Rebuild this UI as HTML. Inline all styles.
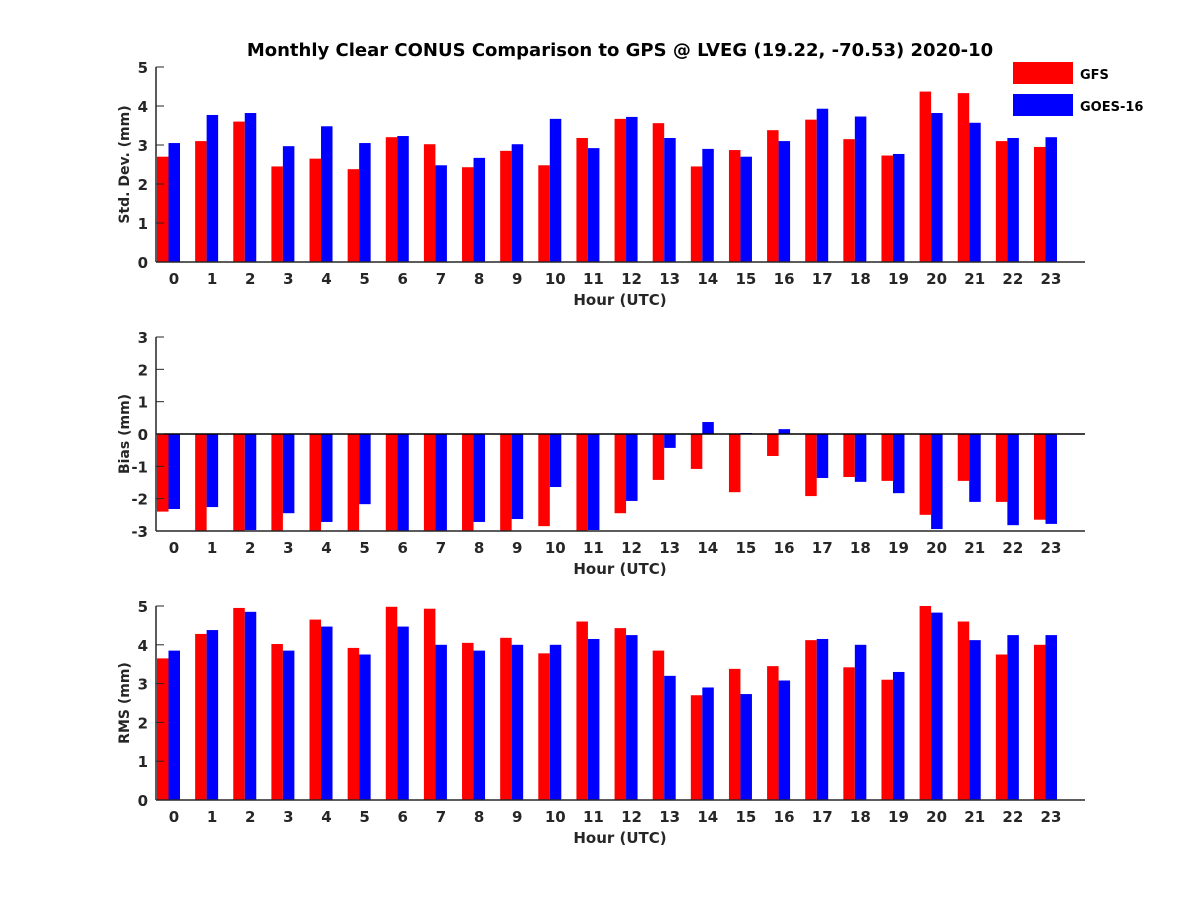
<!DOCTYPE html>
<html><head><meta charset="utf-8"><style>
body{margin:0;background:#fff}
svg{display:block;font-family:"DejaVu Sans","Liberation Sans",sans-serif;font-weight:bold}
</style></head><body>
<svg id="c" width="1200" height="900"></svg>
<script>
const hours=[0,1,2,3,4,5,6,7,8,9,10,11,12,13,14,15,16,17,18,19,20,21,22,23];
const stdGFS=[2.7,3.1,3.6,2.45,2.65,2.38,3.2,3.02,2.43,2.85,2.48,3.18,3.67,3.56,2.45,2.87,3.38,3.65,3.15,2.73,4.37,4.33,3.1,2.95];
const stdGOES=[3.05,3.77,3.82,2.97,3.48,3.05,3.23,2.48,2.67,3.02,3.67,2.92,3.72,3.18,2.9,2.7,3.1,3.93,3.73,2.77,3.82,3.57,3.18,3.2];
const biasGFS=[-2.4,-3.2,-3.2,-3.2,-3.2,-3.2,-3.2,-3.2,-3.2,-3.2,-2.85,-3.2,-2.45,-1.42,-1.08,-1.8,-0.68,-1.92,-1.33,-1.45,-2.5,-1.45,-2.1,-2.65];
const biasGOES=[-2.32,-2.26,-2.97,-2.45,-2.72,-2.17,-3.2,-3.2,-2.72,-2.63,-1.64,-2.97,-2.07,-0.43,0.37,0.03,0.15,-1.36,-1.48,-1.83,-2.94,-2.1,-2.82,-2.78];
const rmsGFS=[3.65,4.28,4.95,4.02,4.65,3.92,4.98,4.93,4.05,4.18,3.78,4.6,4.43,3.85,2.7,3.38,3.45,4.12,3.42,3.1,5.0,4.6,3.75,4.0];
const rmsGOES=[3.85,4.38,4.85,3.85,4.47,3.75,4.47,4.0,3.85,4.0,4.0,4.15,4.25,3.2,2.9,2.73,3.08,4.15,4.0,3.3,4.83,4.12,4.25,4.25];
const stdTicks=[0,1,2,3,4,5], biasTicks=[-3,-2,-1,0,1,2,3], rmsTicks=[0,1,2,3,4,5];
const svg=document.getElementById('c');
const NS='http://www.w3.org/2000/svg';
function mk(t,a,p){const e=document.createElementNS(NS,t);for(const k in a)e.setAttribute(k,a[k]);(p||svg).appendChild(e);return e;}
const X0=156,X1=1085;
const xs=h=>174+h*38.13;
function panel(name,top,bot,ymin,ymax,ticks,g1,g2,ylabel){
  const g=mk('g',{});
  
  
  const ys=v=>bot-(v-ymin)/(ymax-ymin)*(bot-top);
  const clip=mk('clipPath',{id:'cl'+name},g);
  mk('rect',{x:X0,y:top,width:X1-X0,height:bot-top},clip);
  const base=ymin<=0&&ymax>=0?ys(0):ys(ymin);
  const bg=mk('g',{'clip-path':'url(#cl'+name+')'},g);
  hours.forEach((h,i)=>{
    [[g1[i],'#ff0000',-17,'gfs'],[g2[i],'#0000ff',-5.5,'goes']].forEach(([v,c,off,s])=>{
      const y=ys(v);
      const r=mk('rect',{x:xs(h)+off,y:Math.min(y,base),width:11.5,height:Math.abs(base-y),fill:c},bg);
      
      
    });
  });
  if(ymin<0) mk('line',{x1:X0,x2:X1,y1:ys(0),y2:ys(0),stroke:'#000','stroke-width':1.5},g);
  mk('line',{x1:X0,x2:X0,y1:top,y2:bot,stroke:'#262626','stroke-width':1.5},g);
  mk('line',{x1:X0,x2:X1,y1:bot,y2:bot,stroke:'#262626','stroke-width':1.5},g);
  ticks.forEach(t=>{
    mk('line',{x1:X0,x2:X0+8,y1:ys(t),y2:ys(t),stroke:'#262626'},g);
    const tx=mk('text',{x:X0-8,y:ys(t)+6,'text-anchor':'end','font-size':15,fill:'#262626'},g);tx.textContent=t;
  });
  hours.forEach(h=>{
    const tx=mk('text',{x:xs(h),y:bot+22,'text-anchor':'middle','font-size':15,fill:'#262626'},g);tx.textContent=h;
  });
  const xl=mk('text',{x:620,y:bot+43,'text-anchor':'middle','font-size':15,fill:'#262626'},g);xl.textContent='Hour (UTC)';
  
  const yl=mk('text',{x:0,y:0,'text-anchor':'middle','font-size':14,fill:'#262626',transform:'translate(129,'+((top+bot)/2)+') rotate(-90)'},g);yl.textContent=ylabel;
  
}
panel('std',67,262,0,5,stdTicks,stdGFS,stdGOES,'Std. Dev. (mm)');
panel('bias',337,531,-3,3,biasTicks,biasGFS,biasGOES,'Bias (mm)');
panel('rms',606,800,0,5,rmsTicks,rmsGFS,rmsGOES,'RMS (mm)');
const t=mk('text',{x:620,y:56,'text-anchor':'middle','font-size':18,fill:'#000'});t.textContent='Monthly Clear CONUS Comparison to GPS @ LVEG (19.22, -70.53) 2020-10';

[['GFS','#ff0000',62],['GOES-16','#0000ff',94]].forEach(([n,c,y])=>{
  const g=mk('g',{});
  
  
  mk('rect',{x:1013,y:y,width:60,height:22,fill:c},g);
  const tx=mk('text',{x:1080,y:y+17,'font-size':13,fill:'#000'},g);tx.textContent=n;
});
</script>
</body></html>
